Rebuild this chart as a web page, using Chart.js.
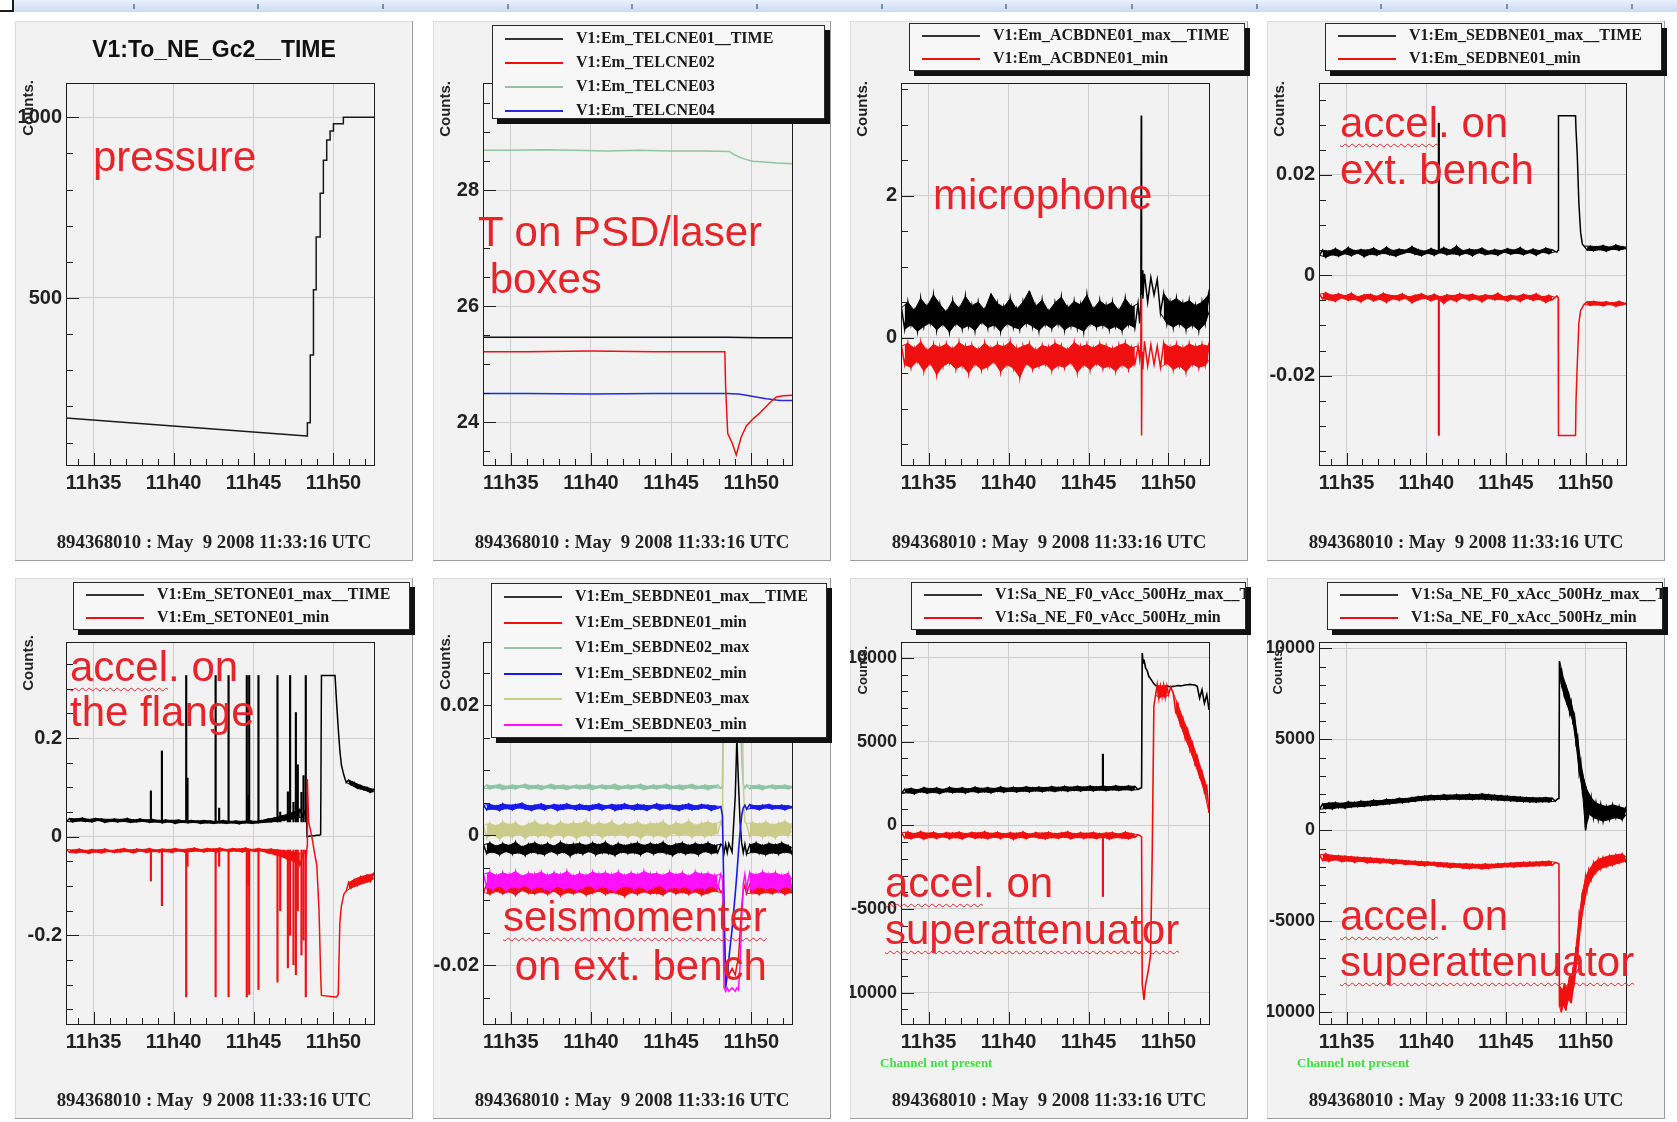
<!DOCTYPE html>
<html>
<head>
<meta charset="utf-8">
<title>Virgo NE environmental channels</title>
<script src="https://cdn.jsdelivr.net/npm/chart.js@4.4.1/dist/chart.umd.min.js"></script>
<style>
  html, body { margin:0; padding:0; background:#ffffff; }
  body { width:1677px; height:1122px; position:relative; overflow:hidden; }
  #strip { position:absolute; left:0; top:0; width:1677px; height:12px; background:linear-gradient(#eaf1fc,#cbdbf3); }
  .stick { position:absolute; top:4px; width:2px; height:5px; background:#7d8ea8; }
  #corner { position:absolute; left:0; top:0; width:12px; height:10px; background:#fff; border-right:2px solid #1c1c1c; border-bottom:2px solid #1c1c1c; }
  .panel { position:absolute; background:#f2f2f2; overflow:hidden; box-shadow: inset -1px -1px 0 #9c9c9c, inset 1px 1px 0 #dcdcdc; }
  .panel canvas { position:absolute; left:0; top:0; }
  .title { position:absolute; font: bold 23px "Liberation Sans", Arial, sans-serif; line-height:28px; color:#111; text-align:center; white-space:nowrap; }
  .footer { position:absolute; font: bold 18.8px "Liberation Serif", "Times New Roman", serif; line-height:22px; color:#222; text-align:center; white-space:pre; }
  .counts { position:absolute; writing-mode: vertical-rl; transform: rotate(180deg); font: bold 15px "Liberation Sans", Arial, sans-serif; color:#222; white-space:nowrap; line-height:15px; }
  .counts.small { font-size:13px; line-height:13px; }
  .legend { position:absolute; background:#f7f7f7; border:1px solid #2a2a2a; box-shadow: 5px 5px 0 #111; overflow:hidden; }
  .lrow { position:absolute; left:0; right:0; height:20px; }
  .lline { position:absolute; left:12px; width:58px; top:9px; height:2px; }
  .ltext { position:absolute; left:83px; top:0; line-height:20px; font: bold 16px "Liberation Serif", "Times New Roman", serif; color:#1a1a1a; white-space:nowrap; }
  .note { position:absolute; font: 42px "Liberation Sans", Arial, sans-serif; line-height:42px; color:#e8242b; white-space:pre; }
  .wavy { text-decoration: underline wavy #e8242b; text-decoration-thickness:1px; text-underline-offset:6px; text-decoration-skip-ink:none; }
  .missing { position:absolute; font: bold 13px "Liberation Serif", "Times New Roman", serif; line-height:16px; color:#3ee03e; white-space:nowrap; }
</style>
</head>
<body>
<div id="strip"></div>
<div id="corner"></div>
<script>
// ---------------- shared axis data ----------------
const X_MIN = 33.27, X_MAX = 52.6;
const xTicks = [35, 40, 45, 50];
const xTickLabels = ['11h35', '11h40', '11h45', '11h50'];
const xMinorTicks = [34,35,36,37,38,39,40,41,42,43,44,45,46,47,48,49,50,51,52];
const footerText = '894368010 : May  9 2008 11:33:16 UTC';

// pre-event sample times (minutes after 11h00)
const tNoise = [
  33.3,33.5,33.7,33.9,34.1,34.3,34.5,34.7,34.9,35.1,35.3,35.5,35.7,35.9,36.1,
  36.3,36.5,36.7,36.9,37.1,37.3,37.5,37.7,37.9,38.1,38.3,38.5,38.7,38.9,39.1,
  39.3,39.5,39.7,39.9,40.1,40.3,40.5,40.7,40.9,41.1,41.3,41.5,41.7,41.9,42.1,
  42.3,42.5,42.7,42.9,43.1,43.3,43.5,43.7,43.9,44.1,44.3,44.5,44.7,44.9,45.1,
  45.3,45.5,45.7,45.9,46.1,46.3,46.5,46.7,46.9,47.1,47.3,47.5,47.7,47.9,48.1];

// ---------------- panel 1 : pressure ----------------
const p1Title = 'V1:To_NE_Gc2__TIME';
const p1T = [33.27,48.33,48.37,48.37,48.55,48.55,48.75,48.75,48.92,48.92,49.17,49.17,49.37,49.37,49.58,49.58,49.79,49.79,50.0,50.0,50.62,50.62,52.6];
const p1V = [168,118,118,155,155,342,342,523,523,669,669,790,790,881,881,937,937,962,962,982,982,1000,1000];
const p1YTicks = [500, 1000], p1YLabels = ['500', '1000'];
const p1YMinor = [100,200,300,400,500,600,700,800,900,1000];

// ---------------- panel 2 : temperatures ----------------
const p2Names = ['V1:Em_TELCNE01__TIME','V1:Em_TELCNE02','V1:Em_TELCNE03','V1:Em_TELCNE04'];
const p2BlackT = [33.27,38,43,48.5,50.5,52.6];
const p2BlackV = [25.47,25.47,25.47,25.47,25.46,25.46];
const p2RedT = [33.27,36,40,44,48.35,48.4,48.53,48.8,49.06,49.37,49.69,50.1,50.52,51.15,51.57,52.0,52.6];
const p2RedV = [25.22,25.22,25.23,25.22,25.22,24.6,23.81,23.65,23.44,23.75,23.94,24.06,24.16,24.34,24.44,24.46,24.47];
const p2GreenT = [33.27,35,37,39,41,43,45,47,48.64,48.9,49.27,49.7,50.1,50.8,51.57,52.6];
const p2GreenV = [28.69,28.69,28.70,28.69,28.68,28.69,28.68,28.68,28.67,28.62,28.57,28.53,28.50,28.49,28.47,28.46];
const p2BlueT = [33.27,36,40,44,47,48.5,49.2,49.69,50.3,50.94,51.78,52.6];
const p2BlueV = [24.50,24.50,24.49,24.50,24.50,24.50,24.49,24.47,24.44,24.41,24.38,24.38];
const p2YTicks = [24, 26, 28], p2YLabels = ['24', '26', '28'];
const p2YMinor = [23.5,24,24.5,25,25.5,26,26.5,27,27.5,28,28.5,29,29.5];

// ---------------- panel 3 : microphone ----------------
const p3Names = ['V1:Em_ACBDNE01_max__TIME','V1:Em_ACBDNE01_min'];
const p3MaxPre = [
  0.42,0.12,0.50,0.18,0.38,0.09,0.55,0.16,0.44,0.21,0.60,0.11,0.47,0.19,0.36,
  0.08,0.52,0.20,0.41,0.13,0.58,0.17,0.45,0.10,0.50,0.22,0.39,0.14,0.62,0.18,
  0.48,0.09,0.43,0.20,0.55,0.15,0.40,0.12,0.50,0.21,0.66,0.16,0.44,0.10,0.53,
  0.19,0.37,0.13,0.49,0.20,0.57,0.11,0.42,0.17,0.51,0.14,0.46,0.09,0.60,0.20,
  0.40,0.15,0.52,0.18,0.45,0.12,0.50,0.16,0.38,0.10,0.55,0.19,0.43,0.14,0.48];
const p3MinPre = [
  -0.12,-0.38,-0.08,-0.42,-0.15,-0.33,-0.06,-0.47,-0.18,-0.36,-0.10,-0.52,-0.14,-0.40,-0.09,
  -0.35,-0.16,-0.44,-0.07,-0.39,-0.13,-0.50,-0.11,-0.37,-0.17,-0.45,-0.08,-0.41,-0.15,-0.34,
  -0.10,-0.48,-0.13,-0.38,-0.06,-0.43,-0.16,-0.56,-0.12,-0.36,-0.09,-0.44,-0.18,-0.40,-0.11,
  -0.37,-0.14,-0.46,-0.08,-0.39,-0.12,-0.42,-0.17,-0.35,-0.07,-0.49,-0.13,-0.38,-0.10,-0.45,
  -0.15,-0.36,-0.09,-0.43,-0.12,-0.40,-0.16,-0.47,-0.11,-0.38,-0.08,-0.44,-0.14,-0.37,-0.12];
const p3PostT = [48.2,48.27,48.3,48.32,48.35,48.4,48.5,48.7,48.9,49.1,49.3,49.5,49.7,49.9,50.1,50.3,50.5,50.7,50.9,51.1,51.3,51.5,51.7,51.9,52.1,52.3,52.5,52.6];
const p3MaxPost = [0.20,0.45,3.13,0.60,0.95,0.55,0.90,0.50,0.85,0.60,0.82,0.35,0.62,0.20,0.50,0.15,0.55,0.20,0.48,0.12,0.52,0.18,0.45,0.10,0.50,0.20,0.60,0.40];
const p3MinPost = [-0.30,-0.10,0.55,-1.38,-0.20,-0.45,-0.05,-0.40,-0.10,-0.38,-0.12,-0.42,-0.08,-0.36,-0.14,-0.45,-0.10,-0.40,-0.15,-0.48,-0.09,-0.37,-0.13,-0.42,-0.10,-0.39,-0.12,-0.30];
const p3YTicks = [0, 2], p3YLabels = ['0', '2'];
const p3YMinor = [-1.5,-1,-0.5,0,0.5,1,1.5,2,2.5,3,3.5];

// ---------------- panel 4 : accel. on ext. bench ----------------
const p4Names = ['V1:Em_SEDBNE01_max__TIME','V1:Em_SEDBNE01_min'];
const p4MaxPre = [
  0.0040,0.0050,0.0036,0.0048,0.0041,0.0053,0.0038,0.0047,0.0043,0.0055,0.0039,0.0049,0.0044,0.0051,0.0037,
  0.0050,0.0042,0.0054,0.0040,0.0048,0.0044,0.0056,0.0041,0.0049,0.0038,0.0052,0.0043,0.0050,0.0046,0.0057,
  0.0042,0.0051,0.0039,0.0048,0.0044,0.0053,0.0040,0.0049,0.0045,0.0055,0.0041,0.0050,0.0043,0.0058,0.0040,
  0.0049,0.0044,0.0052,0.0039,0.0050,0.0045,0.0054,0.0041,0.0048,0.0043,0.0051,0.0040,0.0049,0.0046,0.0053,
  0.0042,0.0050,0.0044,0.0055,0.0041,0.0048,0.0045,0.0052,0.0040,0.0049,0.0046,0.0054,0.0043,0.0051,0.0047];
const p4MinPre = [
  -0.0038,-0.0047,-0.0035,-0.0049,-0.0040,-0.0052,-0.0037,-0.0045,-0.0041,-0.0050,-0.0036,-0.0048,-0.0043,-0.0053,-0.0039,
  -0.0046,-0.0038,-0.0051,-0.0042,-0.0048,-0.0036,-0.0054,-0.0040,-0.0047,-0.0041,-0.0050,-0.0037,-0.0046,-0.0043,-0.0055,
  -0.0040,-0.0049,-0.0037,-0.0046,-0.0042,-0.0051,-0.0038,-0.0047,-0.0043,-0.0056,-0.0039,-0.0048,-0.0041,-0.0052,-0.0037,
  -0.0045,-0.0040,-0.0050,-0.0038,-0.0047,-0.0042,-0.0053,-0.0039,-0.0046,-0.0041,-0.0049,-0.0036,-0.0048,-0.0043,-0.0051,
  -0.0040,-0.0047,-0.0042,-0.0052,-0.0038,-0.0046,-0.0041,-0.0050,-0.0037,-0.0048,-0.0043,-0.0054,-0.0040,-0.0049,-0.0044];
const p4PostT = [48.2,48.28,48.3,49.37,49.4,49.48,49.58,49.69,49.8,49.9,50.1,50.3,50.5,50.7,50.9,51.1,51.3,51.5,51.7,51.9,52.1,52.3,52.5,52.6];
const p4MaxPost = [0.0046,0.0050,0.0318,0.0318,0.0290,0.0238,0.0143,0.0085,0.0062,0.0058,0.0050,0.0058,0.0049,0.0057,0.0051,0.0059,0.0048,0.0056,0.0052,0.0060,0.0050,0.0057,0.0053,0.0056];
const p4MinPost = [-0.0041,-0.0045,-0.0319,-0.0319,-0.0250,-0.0177,-0.0095,-0.0070,-0.0064,-0.0058,-0.0053,-0.0060,-0.0052,-0.0059,-0.0054,-0.0061,-0.0053,-0.0058,-0.0055,-0.0062,-0.0052,-0.0059,-0.0056,-0.0057];
const p4SpikeT = [40.79];
const p4SpikeMaxLo = [0.0048], p4SpikeMaxHi = [0.0303];
const p4SpikeMinLo = [-0.0319], p4SpikeMinHi = [-0.0042];
const p4YTicks = [-0.02, 0, 0.02], p4YLabels = ['-0.02', '0', '0.02'];
const p4YMinor = [-0.035,-0.03,-0.025,-0.02,-0.015,-0.01,-0.005,0,0.005,0.01,0.015,0.02,0.025,0.03,0.035];

// ---------------- panel 5 : accel. on the flange ----------------
const p5Names = ['V1:Em_SETONE01_max__TIME','V1:Em_SETONE01_min'];
const p5MaxPre = [
  0.031,0.037,0.030,0.036,0.032,0.038,0.031,0.035,0.030,0.037,0.033,0.036,0.029,0.035,0.031,
  0.036,0.030,0.035,0.031,0.037,0.029,0.034,0.030,0.036,0.031,0.034,0.029,0.035,0.030,0.033,
  0.028,0.034,0.030,0.033,0.027,0.034,0.029,0.032,0.028,0.033,0.029,0.032,0.027,0.033,0.028,
  0.032,0.027,0.031,0.028,0.033,0.027,0.031,0.028,0.032,0.026,0.031,0.028,0.033,0.027,0.031,
  0.028,0.033,0.029,0.036,0.030,0.038,0.031,0.042,0.033,0.045,0.035,0.050,0.038,0.055,0.040];
const p5MinPre = [
  -0.026,-0.032,-0.027,-0.033,-0.025,-0.031,-0.028,-0.034,-0.026,-0.031,-0.027,-0.033,-0.025,-0.030,-0.028,
  -0.032,-0.026,-0.031,-0.024,-0.030,-0.027,-0.033,-0.025,-0.029,-0.026,-0.032,-0.024,-0.030,-0.027,-0.031,
  -0.025,-0.030,-0.026,-0.032,-0.024,-0.029,-0.026,-0.031,-0.025,-0.030,-0.023,-0.029,-0.026,-0.031,-0.024,
  -0.029,-0.025,-0.031,-0.023,-0.028,-0.026,-0.030,-0.024,-0.029,-0.025,-0.031,-0.023,-0.028,-0.026,-0.030,
  -0.024,-0.029,-0.026,-0.033,-0.025,-0.036,-0.027,-0.040,-0.028,-0.045,-0.030,-0.050,-0.032,-0.058,-0.035];
const p5PostT = [48.2,48.3,48.35,48.37,48.45,48.65,48.8,48.96,49.1,49.2,49.25,50.1,50.2,50.3,50.4,50.5,50.65,50.8,50.95,51.1,51.3,51.5,51.7,51.9,52.1,52.3,52.5,52.6];
const p5MaxPost = [0.050,0.060,0.000,0.000,0.001,0.002,0.002,0.003,0.003,0.004,0.327,0.327,0.270,0.220,0.175,0.145,0.125,0.110,0.115,0.105,0.110,0.098,0.104,0.095,0.100,0.090,0.096,0.092];
const p5MinPost = [-0.030,-0.040,-0.020,0.117,0.030,0.000,-0.030,-0.058,-0.150,-0.280,-0.322,-0.325,-0.325,-0.320,-0.175,-0.140,-0.117,-0.110,-0.093,-0.104,-0.087,-0.099,-0.081,-0.094,-0.078,-0.091,-0.075,-0.082];
const p5SpikeT   = [38.58,39.27,40.79,40.87,42.63,42.85,43.44,44.58,44.69,44.73,45.31,46.5,46.67,47.15,47.29,47.5,47.65,47.77,48.0,48.13,48.27];
const p5SpikeMax = [0.093,0.174,0.327,0.119,0.327,0.058,0.327,0.327,0.084,0.327,0.327,0.327,0.050,0.091,0.327,0.070,0.252,0.146,0.090,0.124,0.327];
const p5SpikeMin = [-0.090,-0.140,-0.325,-0.060,-0.325,-0.060,-0.325,-0.325,-0.100,-0.320,-0.310,-0.295,-0.150,-0.266,-0.200,-0.260,-0.280,-0.150,-0.240,-0.210,-0.325];
const p5SpikeBaseMax = 0.030, p5SpikeBaseMin = -0.027;
const p5YTicks = [-0.2, 0, 0.2], p5YLabels = ['-0.2', '0', '0.2'];
const p5YMinor = [-0.35,-0.3,-0.25,-0.2,-0.15,-0.1,-0.05,0,0.05,0.1,0.15,0.2,0.25,0.3,0.35];

// ---------------- panel 6 : seismometer on ext. bench ----------------
const p6Names = ['V1:Em_SEBDNE01_max__TIME','V1:Em_SEBDNE01_min','V1:Em_SEBDNE02_max','V1:Em_SEBDNE02_min','V1:Em_SEBDNE03_max','V1:Em_SEBDNE03_min'];
const p6BlackPre = [
  -0.0015,-0.0028,-0.0012,-0.0026,-0.0017,-0.0030,-0.0013,-0.0025,-0.0016,-0.0029,-0.0011,-0.0027,-0.0018,-0.0031,-0.0014,
  -0.0026,-0.0012,-0.0028,-0.0016,-0.0030,-0.0013,-0.0025,-0.0017,-0.0029,-0.0011,-0.0026,-0.0015,-0.0032,-0.0014,-0.0027,
  -0.0013,-0.0029,-0.0016,-0.0025,-0.0012,-0.0030,-0.0015,-0.0027,-0.0011,-0.0028,-0.0017,-0.0031,-0.0013,-0.0026,-0.0016,
  -0.0028,-0.0014,-0.0027,-0.0012,-0.0030,-0.0016,-0.0025,-0.0013,-0.0029,-0.0015,-0.0026,-0.0011,-0.0028,-0.0017,-0.0031,
  -0.0014,-0.0026,-0.0012,-0.0029,-0.0016,-0.0027,-0.0013,-0.0030,-0.0015,-0.0025,-0.0012,-0.0028,-0.0016,-0.0027,-0.0014];
const p6RedPre = [
  -0.0088,-0.0076,-0.0091,-0.0078,-0.0086,-0.0074,-0.0090,-0.0079,-0.0087,-0.0075,-0.0092,-0.0077,-0.0085,-0.0078,-0.0089,
  -0.0076,-0.0090,-0.0079,-0.0087,-0.0074,-0.0091,-0.0077,-0.0086,-0.0078,-0.0093,-0.0075,-0.0088,-0.0079,-0.0090,-0.0076,
  -0.0087,-0.0077,-0.0092,-0.0075,-0.0089,-0.0078,-0.0086,-0.0074,-0.0091,-0.0079,-0.0088,-0.0076,-0.0090,-0.0077,-0.0094,
  -0.0075,-0.0088,-0.0078,-0.0091,-0.0076,-0.0087,-0.0079,-0.0090,-0.0074,-0.0089,-0.0077,-0.0092,-0.0078,-0.0086,-0.0075,
  -0.0090,-0.0077,-0.0088,-0.0079,-0.0091,-0.0075,-0.0087,-0.0078,-0.0092,-0.0076,-0.0089,-0.0079,-0.0086,-0.0077,-0.0088];
const p6GreenPre = [
  0.0072,0.0077,0.0071,0.0076,0.0073,0.0078,0.0070,0.0075,0.0072,0.0077,0.0071,0.0076,0.0074,0.0078,0.0071,
  0.0076,0.0072,0.0077,0.0070,0.0075,0.0073,0.0078,0.0071,0.0076,0.0072,0.0077,0.0070,0.0075,0.0073,0.0077,
  0.0071,0.0076,0.0072,0.0078,0.0070,0.0075,0.0073,0.0077,0.0071,0.0076,0.0072,0.0078,0.0070,0.0075,0.0072,
  0.0077,0.0071,0.0076,0.0073,0.0078,0.0070,0.0075,0.0072,0.0077,0.0071,0.0076,0.0073,0.0078,0.0071,0.0075,
  0.0072,0.0077,0.0070,0.0076,0.0073,0.0078,0.0071,0.0075,0.0072,0.0077,0.0070,0.0076,0.0073,0.0077,0.0072];
const p6BluePre = [
  0.0046,0.0039,0.0047,0.0040,0.0045,0.0038,0.0048,0.0041,0.0046,0.0039,0.0047,0.0042,0.0049,0.0040,0.0045,
  0.0038,0.0046,0.0041,0.0048,0.0039,0.0045,0.0042,0.0047,0.0038,0.0046,0.0040,0.0048,0.0041,0.0045,0.0039,
  0.0047,0.0040,0.0045,0.0038,0.0046,0.0041,0.0048,0.0039,0.0045,0.0042,0.0047,0.0038,0.0046,0.0040,0.0048,
  0.0041,0.0045,0.0039,0.0047,0.0040,0.0046,0.0038,0.0045,0.0042,0.0048,0.0039,0.0046,0.0041,0.0047,0.0040,
  0.0045,0.0038,0.0046,0.0041,0.0048,0.0039,0.0045,0.0040,0.0047,0.0042,0.0046,0.0038,0.0045,0.0041,0.0044];
const p6KhakiPre = [
  0.0015,-0.0004,0.0018,0.0001,0.0014,-0.0006,0.0020,0.0000,0.0016,-0.0003,0.0019,0.0002,0.0013,-0.0005,0.0017,
  0.0001,0.0021,-0.0002,0.0015,0.0000,0.0018,-0.0004,0.0014,0.0002,0.0020,-0.0003,0.0016,0.0001,0.0019,-0.0005,
  0.0017,0.0000,0.0022,-0.0002,0.0015,0.0003,0.0019,-0.0004,0.0016,0.0001,0.0021,-0.0001,0.0014,0.0002,0.0018,
  -0.0003,0.0016,0.0001,0.0020,-0.0005,0.0015,0.0002,0.0018,-0.0002,0.0017,0.0000,0.0021,-0.0004,0.0014,0.0003,
  0.0019,-0.0001,0.0016,0.0002,0.0022,-0.0003,0.0015,0.0001,0.0018,-0.0002,0.0020,0.0000,0.0017,0.0003,0.0021];
const p6MagentaPre = [
  -0.0060,-0.0080,-0.0057,-0.0083,-0.0062,-0.0078,-0.0058,-0.0085,-0.0061,-0.0079,-0.0056,-0.0082,-0.0063,-0.0077,-0.0059,
  -0.0084,-0.0060,-0.0079,-0.0057,-0.0082,-0.0062,-0.0086,-0.0058,-0.0078,-0.0061,-0.0083,-0.0056,-0.0080,-0.0063,-0.0085,
  -0.0059,-0.0081,-0.0062,-0.0077,-0.0057,-0.0084,-0.0060,-0.0079,-0.0058,-0.0082,-0.0061,-0.0086,-0.0057,-0.0080,-0.0062,
  -0.0078,-0.0058,-0.0083,-0.0061,-0.0079,-0.0056,-0.0085,-0.0060,-0.0081,-0.0059,-0.0077,-0.0062,-0.0084,-0.0057,-0.0080,
  -0.0061,-0.0082,-0.0058,-0.0079,-0.0063,-0.0085,-0.0057,-0.0080,-0.0060,-0.0083,-0.0059,-0.0078,-0.0062,-0.0084,-0.0060];
const p6PostT = [48.2,48.3,48.4,48.5,48.6,48.8,49.0,49.1,49.2,49.3,49.4,49.5,49.6,49.7,49.9,50.1,50.3,50.5,50.7,50.9,51.1,51.3,51.5,51.7,51.9,52.1,52.3,52.5,52.6];
const p6BlackPost = [-0.0016,-0.0028,-0.0014,-0.0027,-0.0013,-0.0026,0.0060,0.0150,0.0080,0.0020,-0.0012,-0.0027,-0.0014,-0.0029,-0.0015,-0.0026,-0.0012,-0.0028,-0.0016,-0.0030,-0.0013,-0.0027,-0.0015,-0.0029,-0.0012,-0.0026,-0.0016,-0.0028,-0.0020];
const p6RedPost = [-0.0085,-0.0150,-0.0210,-0.0200,-0.0215,-0.0205,-0.0215,-0.0200,-0.0190,-0.0150,-0.0110,-0.0085,-0.0077,-0.0090,-0.0076,-0.0089,-0.0078,-0.0091,-0.0075,-0.0088,-0.0079,-0.0090,-0.0076,-0.0087,-0.0078,-0.0091,-0.0077,-0.0088,-0.0082];
const p6GreenPost = [0.0075,0.0300,0.0300,0.0300,0.0300,0.0300,0.0300,0.0300,0.0300,0.0200,0.0120,0.0078,0.0072,0.0077,0.0071,0.0076,0.0072,0.0077,0.0070,0.0075,0.0073,0.0077,0.0071,0.0076,0.0072,0.0077,0.0071,0.0075,0.0073];
const p6BluePost = [0.0030,-0.0100,-0.0235,-0.0215,-0.0190,-0.0145,-0.0090,-0.0060,-0.0025,0.0005,0.0030,0.0042,0.0046,0.0040,0.0047,0.0041,0.0045,0.0039,0.0046,0.0042,0.0047,0.0040,0.0045,0.0041,0.0046,0.0039,0.0045,0.0042,0.0044];
const p6KhakiPost = [0.0012,0.0300,0.0300,0.0300,0.0300,0.0300,0.0300,0.0300,0.0300,0.0300,0.0300,0.0080,0.0020,0.0018,-0.0002,0.0019,0.0001,0.0017,-0.0003,0.0020,0.0000,0.0016,-0.0004,0.0018,0.0002,0.0021,-0.0001,0.0016,0.0008];
const p6MagentaPost = [-0.0065,-0.0235,-0.0240,-0.0235,-0.0240,-0.0235,-0.0240,-0.0235,-0.0238,-0.0200,-0.0130,-0.0075,-0.0060,-0.0082,-0.0058,-0.0084,-0.0061,-0.0079,-0.0057,-0.0083,-0.0060,-0.0080,-0.0058,-0.0085,-0.0062,-0.0079,-0.0059,-0.0082,-0.0070];
const p6YTicks = [-0.02, 0, 0.02], p6YLabels = ['-0.02', '0', '0.02'];
const p6YMinor = [-0.025,-0.02,-0.015,-0.01,-0.005,0,0.005,0.01,0.015,0.02,0.025];

// ---------------- panel 7 : vertical accel. on superattenuator ----------------
const p7Names = ['V1:Sa_NE_F0_vAcc_500Hz_max__TIME','V1:Sa_NE_F0_vAcc_500Hz_min'];
const p7MaxPre = [
  1900,2150,1950,2200,1880,2120,2000,2250,1920,2180,1970,2230,1900,2140,2010,
  2260,1950,2190,1990,2240,1930,2170,2020,2280,1960,2200,2000,2250,1940,2190,
  2030,2290,1980,2210,2040,2270,1990,2230,2050,2300,2000,2240,2060,2280,2010,
  2250,2070,2310,2020,2260,2080,2320,2040,2270,2090,2330,2050,2280,2100,2340,
  2060,2290,2110,2350,2070,2300,2120,2360,2080,2310,2130,2350,2090,2320,2140];
const p7MinPre = [
  -450,-750,-400,-800,-500,-700,-380,-820,-480,-720,-420,-780,-520,-690,-440,
  -790,-470,-730,-410,-810,-500,-680,-430,-770,-460,-740,-390,-800,-490,-710,
  -420,-780,-510,-700,-450,-830,-480,-720,-400,-790,-530,-690,-440,-760,-470,
  -810,-420,-730,-500,-780,-460,-700,-390,-800,-510,-720,-450,-770,-480,-740,
  -430,-790,-500,-710,-460,-820,-440,-730,-520,-760,-410,-800,-490,-720,-560];
const p7PostT = [48.2,48.32,48.36,48.42,48.47,48.57,48.67,48.77,48.88,48.99,49.09,49.2,49.3,49.4,49.5,49.6,49.7,49.8,49.9,50.0,50.14,50.3,50.45,50.6,50.75,50.9,51.05,51.2,51.35,51.5,51.65,51.8,51.95,52.1,52.25,52.4,52.54];
const p7MaxPost = [2200,2250,10300,9700,9900,9400,9250,8900,8750,8600,8450,8350,8300,8250,8300,8280,8250,8300,8320,8300,8280,8300,8320,8350,8330,8350,8380,8400,8420,8400,8380,8300,7600,8100,7300,7800,6900];
const p7MinPost = [-600,-700,-9470,-10000,-10430,-9500,-9040,-8500,-7770,-1380,7130,7800,8400,7600,8300,7700,8350,7650,8300,7800,8250,7900,6800,7200,6000,6400,5200,5700,4500,4900,3700,4100,2900,3200,2000,2300,745];
const p7SpikeT = [45.9];
const p7SpikeMaxLo = [2200], p7SpikeMaxHi = [4255];
const p7SpikeMinLo = [-4255], p7SpikeMinHi = [-600];
const p7YTicks = [-10000, -5000, 0, 5000, 10000], p7YLabels = ['-10000', '-5000', '0', '5000', '10000'];
const p7YMinor = [-11000,-10000,-9000,-8000,-7000,-6000,-5000,-4000,-3000,-2000,-1000,0,1000,2000,3000,4000,5000,6000,7000,8000,9000,10000];

// ---------------- panel 8 : horizontal accel. on superattenuator ----------------
const p8Names = ['V1:Sa_NE_F0_xAcc_500Hz_max__TIME','V1:Sa_NE_F0_xAcc_500Hz_min'];
const p8MaxPre = [
  1150,1450,1200,1500,1180,1520,1250,1480,1220,1560,1280,1530,1300,1600,1320,
  1580,1350,1650,1380,1620,1420,1700,1450,1680,1500,1760,1520,1740,1560,1800,
  1600,1850,1640,1880,1660,1920,1680,1900,1700,1950,1690,1930,1720,1960,1700,
  1940,1710,1980,1690,1950,1720,2000,1700,1960,1680,1930,1660,1900,1640,1880,
  1620,1850,1600,1830,1580,1800,1560,1790,1550,1780,1570,1800,1560,1770,1600];
const p8MinPre = [
  -1350,-1650,-1300,-1700,-1380,-1620,-1400,-1720,-1420,-1680,-1450,-1750,-1480,-1700,-1500,
  -1780,-1520,-1760,-1550,-1800,-1580,-1770,-1600,-1850,-1620,-1820,-1650,-1880,-1680,-1860,
  -1700,-1920,-1720,-1950,-1740,-1900,-1760,-1980,-1780,-2000,-1800,-2050,-1820,-2020,-1850,
  -2080,-1840,-2100,-1860,-2060,-1880,-2120,-1850,-2090,-1870,-2050,-1840,-2030,-1820,-2000,
  -1800,-2020,-1780,-1990,-1760,-1980,-1750,-1960,-1740,-1950,-1720,-1940,-1700,-1920,-1760];
const p8PostT = [48.2,48.33,48.36,48.42,48.48,48.54,48.6,48.68,48.76,48.84,48.92,49.0,49.1,49.2,49.3,49.4,49.5,49.6,49.7,49.8,49.9,50.0,50.1,50.2,50.35,50.5,50.65,50.8,50.95,51.1,51.3,51.5,51.7,51.9,52.1,52.3,52.5,52.6];
const p8MaxPost = [1700,1750,9300,8200,8900,7800,8400,7300,8000,6900,7600,6500,7000,6000,6300,4800,5100,3200,3700,2200,2800,0,2200,900,1800,700,1500,600,1400,500,1300,600,1400,700,1300,600,1200,900];
const p8MinPost = [-1800,-1850,-9700,-8600,-10000,-8800,-9600,-8400,-9900,-8700,-9300,-8000,-9500,-7800,-8300,-6400,-7000,-4700,-5200,-3400,-4100,-2600,-3200,-2200,-2700,-1800,-2300,-1600,-2100,-1500,-2000,-1400,-1900,-1350,-1800,-1300,-1700,-1500];
const p8YTicks = [-10000, -5000, 0, 5000, 10000], p8YLabels = ['-10000', '-5000', '0', '5000', '10000'];
const p8YMinor = [-10000,-9000,-8000,-7000,-6000,-5000,-4000,-3000,-2000,-1000,0,1000,2000,3000,4000,5000,6000,7000,8000,9000,10000];

// ---------------- layout & style ----------------
const COLS = [{x:15,w:398,L:51},{x:433,w:398,L:50},{x:850,w:398,L:51},{x:1267,w:398,L:52}];
const ROWS = [{y:21,h:540,T:62,B:95},{y:578,h:541,T:64,B:94}];
const PLOT_RIGHT = 38;
const C_BLACK = '#000000', C_RED = '#f01010', C_GREEN = '#8fc4a4', C_BLUE = '#1a1ae8', C_KHAKI = '#cbcb8a', C_MAGENTA = '#ff10ff';

function line(label, ts, vs, color, width, order, extra) {
  return Object.assign({
    type:'line', label, data: ts.map((t, i) => ({x:t, y:vs[i]})),
    borderColor:color, backgroundColor:color, borderWidth:width,
    pointRadius:0, pointHoverRadius:0, tension:0, fill:false, order
  }, extra || {});
}
// A recorded trace. Inside the given index ranges the samples alternate high/low (noise); there the
// envelope of the highs and the envelope of the lows are also drawn and the space between them filled.
function trace(label, ts, vs, color, width, order, noisyRanges) {
  const out = [line(label, ts, vs, color, width, order)];
  (noisyRanges || []).forEach(([a, b]) => {
    const hiT = [], hiV = [], loT = [], loV = [];
    for (let i = a; i < b; i++) {
      if ((i - a) % 2 === 0) { hiT.push(ts[i]); hiV.push(vs[i]); } else { loT.push(ts[i]); loV.push(vs[i]); }
    }
    out.push(line(label, hiT, hiV, color, 1, order));
    out.push(line(label, loT, loV, color, 1, order, {fill:'-1'}));
  });
  return out;
}
function spikes(label, ts, lo, hi, color, order) {
  return {
    type:'bar', label,
    data: ts.map((t, i) => ({x:t, y:[(typeof lo === 'number' ? lo : lo[i]), (typeof hi === 'number' ? hi : hi[i])]})),
    backgroundColor:color, borderWidth:0, barThickness:1.5, grouped:false, order
  };
}

function makeFrame(xMajor, xMinor, yMajor, yMinor) {
  return {
    id: 'rootFrame',
    afterDatasetsDraw(chart) {
      const {ctx, chartArea:a, scales:{x, y}} = chart;
      ctx.save();
      ctx.strokeStyle = '#1e1e1e';
      ctx.lineWidth = 1;
      ctx.strokeRect(Math.round(a.left) + 0.5, Math.round(a.top) + 0.5, Math.round(a.right - a.left) - 1, Math.round(a.bottom - a.top) - 1);
      ctx.beginPath();
      xMinor.forEach(v => {
        const px = Math.round(x.getPixelForValue(v)) + 0.5;
        const len = xMajor.includes(v) ? 13 : 7;
        ctx.moveTo(px, a.bottom); ctx.lineTo(px, a.bottom - len);
      });
      yMinor.forEach(v => {
        const py = Math.round(y.getPixelForValue(v)) + 0.5;
        const len = yMajor.includes(v) ? 13 : 7;
        ctx.moveTo(a.left, py); ctx.lineTo(a.left + len, py);
      });
      ctx.stroke();
      ctx.restore();
    }
  };
}

function buildPanel(p) {
  const c = COLS[p.col], r = ROWS[p.row];
  const panel = document.createElement('div');
  panel.className = 'panel';
  panel.style.cssText = `left:${c.x}px;top:${r.y}px;width:${c.w}px;height:${r.h}px`;
  const canvas = document.createElement('canvas');
  canvas.width = c.w; canvas.height = r.h;
  canvas.style.width = c.w + 'px'; canvas.style.height = r.h + 'px';
  panel.appendChild(canvas);
  document.body.appendChild(panel);

  const footer = document.createElement('div');
  footer.className = 'footer';
  footer.style.cssText = `left:${c.x}px;width:${c.w}px;top:${r.y + r.h - 30}px`;
  footer.textContent = footerText;
  document.body.appendChild(footer);

  const fontFamily = '"Liberation Sans", Arial, sans-serif';
  new Chart(canvas.getContext('2d'), {
    type: 'line',
    data: { datasets: p.datasets },
    options: {
      responsive:false, animation:false, devicePixelRatio:1,
      events: [],
      layout: { padding: { left:0, top:r.T, right:PLOT_RIGHT, bottom:0 } },
      plugins: { legend:{display:false}, tooltip:{enabled:false}, title:{display:false} },
      scales: {
        x: {
          type:'linear', min:X_MIN, max:X_MAX, offset:false,
          afterBuildTicks: s => { s.ticks = xTicks.map(v => ({value:v})); },
          afterFit: s => { s.height = r.B; },
          ticks: { autoSkip:false, maxRotation:0, minRotation:0, padding:5, color:'#222',
                   font:{family:fontFamily, size:20, weight:'bold'},
                   callback: (v, i) => xTickLabels[i] },
          grid: { color:'#cdcdcd', lineWidth:1, drawTicks:false, offset:false },
          border: { display:false }
        },
        y: {
          type:'linear', min:p.yMin, max:p.yMax,
          afterBuildTicks: s => { s.ticks = p.yTicks.map(v => ({value:v})); },
          afterFit: s => { s.width = c.L; },
          ticks: { autoSkip:false, padding:4, color:'#222',
                   font:{family:fontFamily, size:(p.yFont || 20), weight:'bold'},
                   callback: (v, i) => p.yLabels[i] },
          grid: { color:'#cdcdcd', lineWidth:1, drawTicks:false },
          border: { display:false }
        }
      }
    },
    plugins: [makeFrame(xTicks, xMinorTicks, p.yTicks, p.yMinor)]
  });
}

function addLegend(box, names, colors, first, step) {
  const el = document.createElement('div');
  el.className = 'legend';
  el.style.cssText = `left:${box.x}px;top:${box.y}px;width:${box.w}px;height:${box.h}px`;
  names.forEach((n, i) => {
    const row = document.createElement('div');
    row.className = 'lrow';
    row.style.top = (first + i * step - 10) + 'px';
    const ln = document.createElement('div');
    ln.className = 'lline'; ln.style.background = colors[i];
    const tx = document.createElement('div');
    tx.className = 'ltext'; tx.textContent = n;
    row.appendChild(ln); row.appendChild(tx);
    el.appendChild(row);
  });
  document.body.appendChild(el);
}

function addDiv(cls, css, html) {
  const d = document.createElement('div');
  d.className = cls; d.style.cssText = css; d.innerHTML = html;
  document.body.appendChild(d);
}

// ---------------- build panels ----------------
buildPanel({ col:0, row:0, yMin:35, yMax:1095, yTicks:p1YTicks, yLabels:p1YLabels, yMinor:p1YMinor,
  datasets:[ line(p1Title, p1T, p1V, '#1a1a1a', 1.5, 0) ] });

buildPanel({ col:1, row:0, yMin:23.25, yMax:29.85, yTicks:p2YTicks, yLabels:p2YLabels, yMinor:p2YMinor,
  datasets:[
    line(p2Names[0], p2BlackT, p2BlackV, '#111', 1.5, 3),
    line(p2Names[1], p2RedT, p2RedV, C_RED, 1.5, 0),
    line(p2Names[2], p2GreenT, p2GreenV, C_GREEN, 1.5, 2),
    line(p2Names[3], p2BlueT, p2BlueV, '#2828e0', 1.5, 1)
  ] });

const p3T = tNoise.concat(p3PostT);
buildPanel({ col:2, row:0, yMin:-1.81, yMax:3.59, yTicks:p3YTicks, yLabels:p3YLabels, yMinor:p3YMinor,
  datasets: [].concat(
    trace(p3Names[0], p3T, p3MaxPre.concat(p3MaxPost), C_BLACK, 1.5, 1, [[0, 75], [86, 103]]),
    trace(p3Names[1], p3T, p3MinPre.concat(p3MinPost), C_RED, 1.5, 0, [[0, 75], [86, 103]])
  ) });

const p4T = tNoise.concat(p4PostT);
buildPanel({ col:3, row:0, yMin:-0.038, yMax:0.0383, yTicks:p4YTicks, yLabels:p4YLabels, yMinor:p4YMinor,
  datasets: [].concat(
    trace(p4Names[0], p4T, p4MaxPre.concat(p4MaxPost), C_BLACK, 1.5, 1, [[0, 75], [84, 99]]),
    trace(p4Names[1], p4T, p4MinPre.concat(p4MinPost), C_RED, 1.5, 0, [[0, 75], [84, 99]]),
    [spikes(p4Names[0] + ' spike', p4SpikeT, p4SpikeMaxLo, p4SpikeMaxHi, C_BLACK, 3),
     spikes(p4Names[1] + ' spike', p4SpikeT, p4SpikeMinLo, p4SpikeMinHi, C_RED, 2)]
  ) });

const p5T = tNoise.concat(p5PostT);
buildPanel({ col:0, row:1, yMin:-0.382, yMax:0.395, yTicks:p5YTicks, yLabels:p5YLabels, yMinor:p5YMinor,
  datasets: [].concat(
    trace(p5Names[0], p5T, p5MaxPre.concat(p5MaxPost), C_BLACK, 1.5, 1, [[0, 75], [92, 103]]),
    trace(p5Names[1], p5T, p5MinPre.concat(p5MinPost), C_RED, 1.5, 0, [[0, 75], [92, 103]]),
    [spikes(p5Names[0] + ' spikes', p5SpikeT, p5SpikeBaseMax, p5SpikeMax, C_BLACK, 3),
     spikes(p5Names[1] + ' spikes', p5SpikeT, p5SpikeMin, p5SpikeBaseMin, C_RED, 2)]
  ) });

const p6T = tNoise.concat(p6PostT);
const p6Noise = [[0, 75], [88, 104]];
buildPanel({ col:1, row:1, yMin:-0.0292, yMax:0.0297, yTicks:p6YTicks, yLabels:p6YLabels, yMinor:p6YMinor,
  datasets: [].concat(
    trace(p6Names[0], p6T, p6BlackPre.concat(p6BlackPost), C_BLACK, 1.5, 2, p6Noise),
    trace(p6Names[1], p6T, p6RedPre.concat(p6RedPost), C_RED, 1.5, 5, p6Noise),
    trace(p6Names[2], p6T, p6GreenPre.concat(p6GreenPost), C_GREEN, 1.5, 4, p6Noise),
    trace(p6Names[3], p6T, p6BluePre.concat(p6BluePost), C_BLUE, 1.6, 1, p6Noise),
    trace(p6Names[4], p6T, p6KhakiPre.concat(p6KhakiPost), C_KHAKI, 1.5, 3, p6Noise),
    trace(p6Names[5], p6T, p6MagentaPre.concat(p6MagentaPost), C_MAGENTA, 1.5, 0, p6Noise)
  ) });

const p7T = tNoise.concat(p7PostT);
buildPanel({ col:2, row:1, yMin:-11930, yMax:10950, yFont:18, yTicks:p7YTicks, yLabels:p7YLabels, yMinor:p7YMinor,
  datasets: [].concat(
    trace(p7Names[0], p7T, p7MaxPre.concat(p7MaxPost), C_BLACK, 1.6, 1, [[0, 75]]),
    trace(p7Names[1], p7T, p7MinPre.concat(p7MinPost), C_RED, 1.6, 0, [[0, 75], [86, 95], [96, 112]]),
    [spikes(p7Names[0] + ' spike', p7SpikeT, p7SpikeMaxLo, p7SpikeMaxHi, C_BLACK, 3),
     spikes(p7Names[1] + ' spike', p7SpikeT, p7SpikeMinLo, p7SpikeMinHi, C_RED, 2)]
  ) });

const p8T = tNoise.concat(p8PostT);
buildPanel({ col:3, row:1, yMin:-10700, yMax:10350, yFont:18, yTicks:p8YTicks, yLabels:p8YLabels, yMinor:p8YMinor,
  datasets: [].concat(
    trace(p8Names[0], p8T, p8MaxPre.concat(p8MaxPost), C_BLACK, 1.6, 1, [[0, 75], [77, 113]]),
    trace(p8Names[1], p8T, p8MinPre.concat(p8MinPost), C_RED, 1.6, 0, [[0, 75], [77, 113]])
  ) });

// ---------------- decorations, legends, labels ----------------
[133,257,382,507,631,756,881,1005,1131,1256,1380,1506,1631].forEach(x => addDiv('stick', `left:${x}px`, ''));

addDiv('title', 'left:15px;width:398px;top:35px', p1Title);

addLegend({x:492, y:25, w:331, h:92}, p2Names, ['#333', C_RED, C_GREEN, '#2828e0'], 12.5, 24.2);
addLegend({x:909, y:23, w:334, h:46}, p3Names, ['#333', C_RED], 12, 22.5);
addLegend({x:1325, y:23, w:335, h:46}, p4Names, ['#333', C_RED], 12, 22.5);
addLegend({x:73, y:582, w:335, h:46}, p5Names, ['#333', C_RED], 12, 22.5);
addLegend({x:491, y:583, w:334, h:153}, p6Names, ['#333', C_RED, C_GREEN, C_BLUE, C_KHAKI, C_MAGENTA], 13, 25.6);
addLegend({x:911, y:582, w:333, h:46}, p7Names, ['#333', C_RED], 12, 22.5);
addLegend({x:1327, y:582, w:334, h:46}, p8Names, ['#333', C_RED], 12, 22.5);

[[19.5,80,''],[436.5,81,''],[853.5,81,''],[1270.5,81,''],[19.5,635,''],[436.5,634,''],[856,646,' small'],[1271,646,' small']]
  .forEach(([x, y, s]) => addDiv('counts' + s, `left:${x}px;top:${y}px`, 'Counts.'));

addDiv('missing', 'left:880px;top:1055px', 'Channel not present');
addDiv('missing', 'left:1297px;top:1055px', 'Channel not present');

addDiv('note', 'left:93px;top:136px', 'pressure');
addDiv('note', 'left:478px;top:211px', 'T on PSD/laser');
addDiv('note', 'left:478px;top:258px', ' boxes');
addDiv('note', 'left:933px;top:174px', 'microphone');
addDiv('note', 'left:1340px;top:102px', '<span class="wavy">accel</span>. on');
addDiv('note', 'left:1340px;top:149px', 'ext. bench');
addDiv('note', 'left:70px;top:646px', '<span class="wavy">accel</span>. on');
addDiv('note', 'left:70px;top:691px', 'the flange');
addDiv('note', 'left:503px;top:896px', '<span class="wavy">seismomenter</span>');
addDiv('note', 'left:503px;top:945px', ' on ext. bench');
addDiv('note', 'left:885px;top:862px', '<span class="wavy">accel</span>. on');
addDiv('note', 'left:885px;top:909px', '<span class="wavy">superattenuator</span>');
addDiv('note', 'left:1340px;top:895px', '<span class="wavy">accel</span>. on');
addDiv('note', 'left:1340px;top:941px', '<span class="wavy">superattenuator</span>');
</script>
</body>
</html>
